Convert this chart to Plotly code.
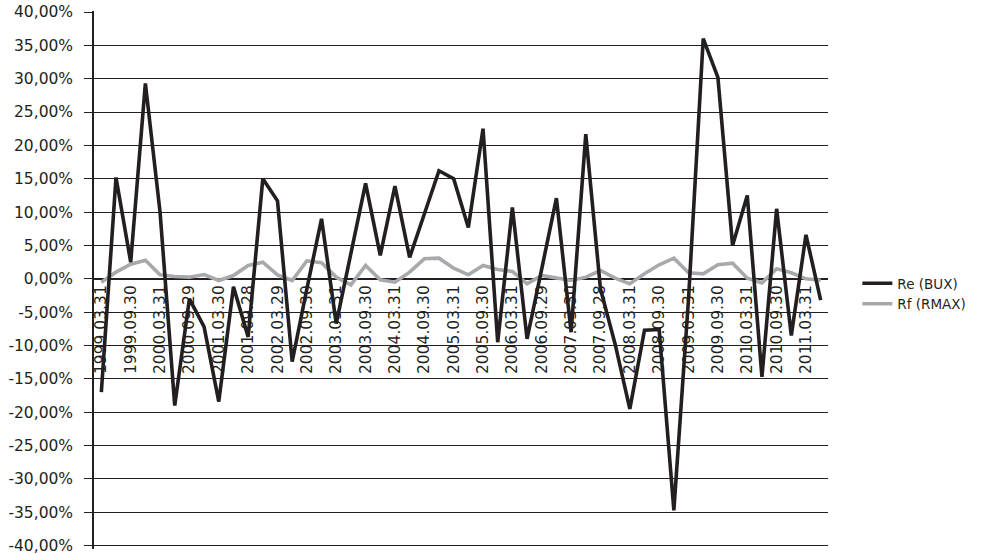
import plotly.graph_objects as go

dates = [
    "1999.03.31", "1999.06.30", "1999.09.30", "1999.12.31",
    "2000.03.31", "2000.06.30", "2000.09.29", "2000.12.29",
    "2001.03.30", "2001.06.29", "2001.09.28", "2001.12.28",
    "2002.03.29", "2002.06.28", "2002.09.30", "2002.12.31",
    "2003.03.31", "2003.06.30", "2003.09.30", "2003.12.31",
    "2004.03.31", "2004.06.30", "2004.09.30", "2004.12.31",
    "2005.03.31", "2005.06.30", "2005.09.30", "2005.12.30",
    "2006.03.31", "2006.06.30", "2006.09.29", "2006.12.29",
    "2007.03.30", "2007.06.29", "2007.09.28", "2007.12.31",
    "2008.03.31", "2008.06.30", "2008.09.30", "2008.12.31",
    "2009.03.31", "2009.06.30", "2009.09.30", "2009.12.31",
    "2010.03.31", "2010.06.30", "2010.09.30", "2010.12.31",
    "2011.03.31", "2011.06.30",
]

# Quarterly returns, in percent
re_bux = [
    -17.0, 15.2, 2.5, 29.3, 10.0, -19.0, -3.0, -7.2, -18.4, -1.2,
    -8.7, 15.0, 11.7, -12.4, -1.5, 9.0, -6.7, 3.5, 14.3, 3.5,
    13.9, 3.2, 9.7, 16.2, 15.0, 7.7, 22.5, -9.5, 10.7, -9.0,
    1.5, 12.1, -8.0, 21.7, -1.5, -9.8, -19.5, -7.7, -7.6, -34.7,
    -3.0, 36.0, 30.2, 5.0, 12.5, -14.7, 10.5, -8.5, 6.6, -3.2,
]
rf_rmax = [
    -0.5, 1.0, 2.2, 2.8, 0.6, 0.35, 0.25, 0.65, -0.25, 0.5,
    2.0, 2.5, 0.6, -0.25, 2.7, 2.4, 0.25, -0.9, 2.0, -0.15,
    -0.5, 1.0, 3.0, 3.1, 1.6, 0.6, 2.0, 1.4, 1.1, -0.75,
    0.5, 0.1, -0.25, 0.25, 1.25, 0.1, -0.75, 0.75, 2.1, 3.1,
    0.9, 0.75, 2.1, 2.35, 0.1, -0.6, 1.5, 0.9, 0.0, -0.2,
]

y_tick_vals = [40, 35, 30, 25, 20, 15, 10, 5, 0, -5, -10, -15, -20, -25, -30, -35, -40]
y_tick_text = ["40,00%", "35,00%", "30,00%", "25,00%", "20,00%", "15,00%", "10,00%", "5,00%",
               "0,00%", "-5,00%", "-10,00%", "-15,00%", "-20,00%", "-25,00%", "-30,00%",
               "-35,00%", "-40,00%"]
x_tick_vals = dates[::2]

FONT = "DejaVu Sans, Liberation Sans, Arial, sans-serif"
TXT = "#231f20"

fig = go.Figure()
fig.add_trace(go.Scatter(
    x=dates, y=rf_rmax, name="Rf (RMAX)", mode="lines",
    line=dict(color="#a7a9ac", width=3.6), legendrank=2,
))
fig.add_trace(go.Scatter(
    x=dates, y=re_bux, name="Re (BUX)", mode="lines",
    line=dict(color="#231f20", width=3.6), legendrank=1,
))

fig.update_layout(
    width=982, height=554,
    margin=dict(l=94, r=154, t=11, b=5),
    paper_bgcolor="white", plot_bgcolor="white",
    font=dict(family=FONT, color=TXT, size=15),
    showlegend=True,
    legend=dict(
        x=1.04, y=0.474, xanchor="left", yanchor="middle",
        font=dict(family=FONT, size=13.5, color=TXT),
        bgcolor="rgba(0,0,0,0)", borderwidth=0,
        tracegroupgap=0,
    ),
    xaxis=dict(
        type="category",
        range=[-0.5, 49.5],
        anchor="free", position=(40.15 - 0) / (40.15 + 40.5),
        automargin=False,
        showline=False,
        showgrid=False, zeroline=False,
        tickmode="array", tickvals=x_tick_vals, ticktext=x_tick_vals,
        tickangle=-90, ticks="",
        tickfont=dict(family=FONT, size=15.5, color=TXT),
        layer="below traces",
    ),
    yaxis=dict(
        range=[-40.5, 40.15],
        automargin=False,
        tickmode="array", tickvals=y_tick_vals, ticktext=y_tick_text,
        showgrid=True, gridcolor=TXT, gridwidth=1.4,
        zeroline=True, zerolinecolor=TXT, zerolinewidth=1.7,
        showline=True, linecolor=TXT, linewidth=1.6,
        ticks="outside", ticklen=8, tickcolor=TXT, tickwidth=1.4,
        ticklabelstandoff=8,
        ticklabeloverflow="allow",
        tickfont=dict(family=FONT, size=15.5, color=TXT),
    ),
)

fig.write_html(
    "out.html",
    config={"displayModeBar": False},
    post_script="document.body.style.margin='0';document.body.style.padding='0';",
)
